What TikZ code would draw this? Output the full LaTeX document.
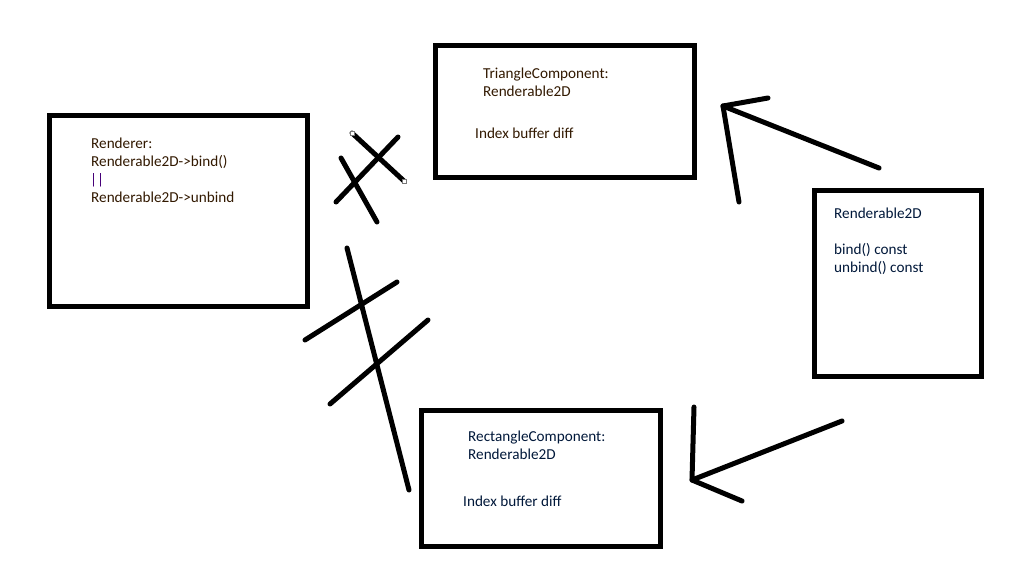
\documentclass[tikz,border=0pt]{standalone}
\usepackage{fontspec}
\setmainfont{Carlito}
\definecolor{txtbrown}{RGB}{50,25,0}
\definecolor{txtnavy}{RGB}{0,24,58}
\definecolor{txtpurple}{RGB}{70,0,120}
\definecolor{handlegray}{RGB}{120,120,120}
\tikzset{
  box/.style={draw=black, line width=5pt, inner sep=0pt, fill=white},
  lbl/.style={anchor=base west, inner sep=0pt, font=\fontsize{15.2}{18}\selectfont},
  stroke/.style={line width=5pt, line cap=round, line join=round},
  handle/.style={draw=handlegray, fill=white, line width=0.8pt, minimum size=4pt, inner sep=0pt}
}
\begin{document}
\begin{tikzpicture}[x=1pt,y=-1pt]
\useasboundingbox (0,0) rectangle (1018,560);
% boxes
\node[box, minimum width=258pt, minimum height=191pt] (renderer) at (178.5,211) {};
\node[box, minimum width=259pt, minimum height=132pt] (tri) at (564.5,111) {};
\node[box, minimum width=167pt, minimum height=186pt] (r2d) at (898,283) {};
\node[box, minimum width=239pt, minimum height=136.5pt] (rect) at (541,478.25) {};
% renderer text
\node[lbl, text=txtbrown] (ren1) at (91,148) {Renderer:};
\node[lbl, text=txtbrown] (ren2) at (91,166) {Renderable2D->bind()};
\node[lbl, text=txtpurple] (ren3) at (90,184) {||};
\node[lbl, text=txtbrown] (ren4) at (91,202) {Renderable2D->unbind};
% triangle text
\node[lbl, text=txtbrown] (tri1) at (483,78) {TriangleComponent:};
\node[lbl, text=txtbrown] (tri2) at (483,96) {Renderable2D};
\node[lbl, text=txtbrown] (tri3) at (475,138) {Index buffer diff};
% renderable2d text
\node[lbl, text=txtnavy] (r2d1) at (834,218) {Renderable2D};
\node[lbl, text=txtnavy] (r2d2) at (834,254) {bind() const};
\node[lbl, text=txtnavy] (r2d3) at (834,272) {unbind() const};
% rectangle text
\node[lbl, text=txtnavy] (rect1) at (468,441) {RectangleComponent:};
\node[lbl, text=txtnavy] (rect2) at (468,459) {Renderable2D};
\node[lbl, text=txtnavy] (rect3) at (463,506) {Index buffer diff};
% crossed-out connection top
\coordinate (ca1) at (352,133);
\coordinate (ca2) at (404,181);
\coordinate (cb1) at (398,137);
\coordinate (cb2) at (336,202);
\coordinate (cc1) at (341,158);
\coordinate (cc2) at (377,222);
\draw[stroke] (ca1) -- (ca2);
\draw[stroke] (cb1) -- (cb2);
\draw[stroke] (cc1) -- (cc2);
\node[handle] (h1) at (ca1) {};
\node[handle] (h2) at (ca2) {};
% crossed-out connection bottom
\coordinate (da1) at (347,248);
\coordinate (da2) at (409,490);
\coordinate (db1) at (305,340);
\coordinate (db2) at (397,282);
\coordinate (dc1) at (330,404);
\coordinate (dc2) at (428,320);
\draw[stroke] (da1) -- (da2);
\draw[stroke] (db1) -- (db2);
\draw[stroke] (dc1) -- (dc2);
% arrow to triangle
\coordinate (ta) at (723,106);
\coordinate (ts) at (879,168);
\coordinate (tl) at (768,98);
\coordinate (tr) at (739,202);
\draw[stroke] (ts) -- (ta);
\draw[stroke] (tl) -- (ta) -- (tr);
% arrow to rectangle
\coordinate (ba) at (692,480);
\coordinate (bs) at (842,421);
\coordinate (bu) at (694,407);
\coordinate (bd) at (742,501);
\draw[stroke] (bs) -- (ba);
\draw[stroke] (bu) -- (ba) -- (bd);
\end{tikzpicture}
\end{document}
